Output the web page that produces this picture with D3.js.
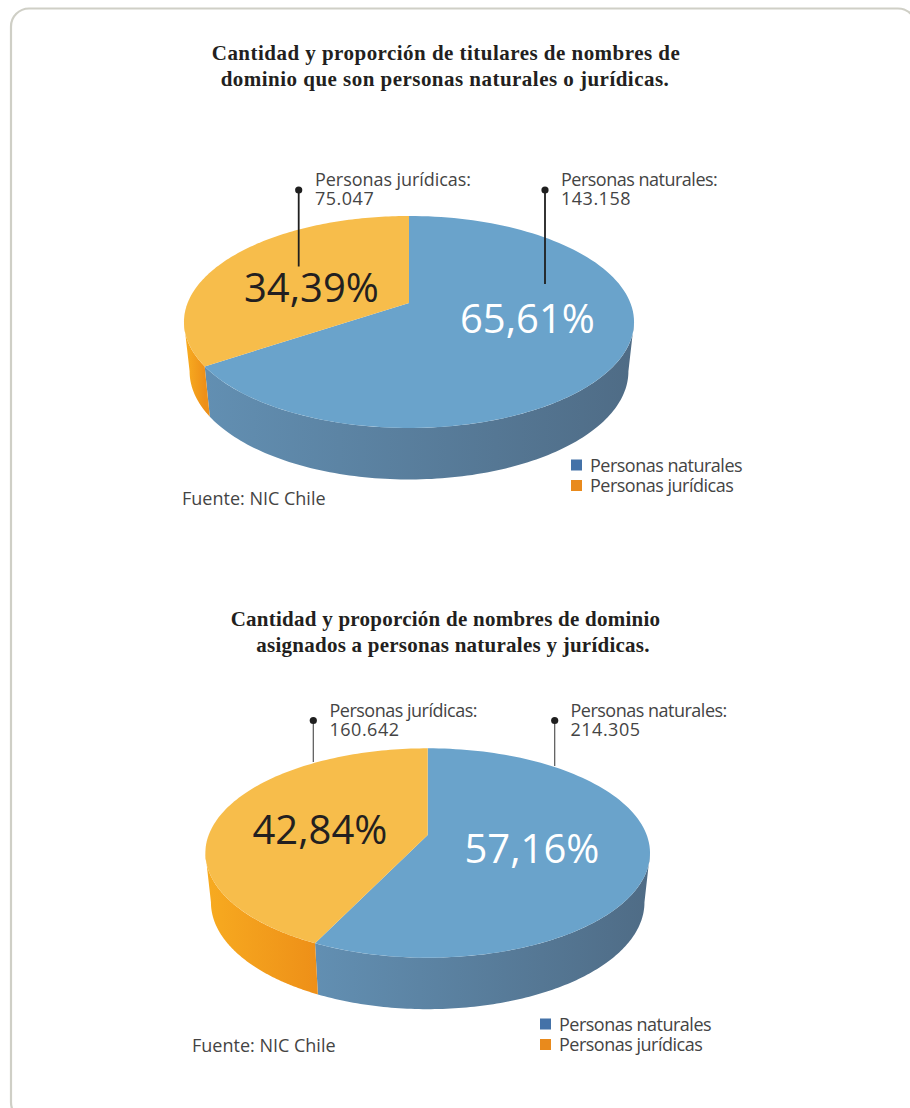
<!DOCTYPE html>
<html lang="es">
<head>
<meta charset="utf-8">
<title>Titulares y nombres de dominio</title>
<script src="https://cdn.jsdelivr.net/npm/d3@7/dist/d3.min.js"></script>
<style>
  html, body { margin: 0; padding: 0; background: #fff; overflow: hidden; }
  svg { display: block; }
  text { font-family: "Open Sans", "Noto Sans", sans-serif; }
  .title { font-family: "Liberation Serif", serif; font-weight: 700; font-size: 21px; fill: #231f20; text-anchor: middle; }
  .label, .legend, .source { font-size: 18px; fill: #444444; }
  .label, .legend { letter-spacing: -0.5px; }
  .label .count { letter-spacing: 0.5px; }
  .pct { font-size: 40px; }
</style>
</head>
<body>
<svg id="chart" width="910" height="1108"></svg>
<script>
// Domain-holder figures published by NIC Chile
const categories = ["Personas naturales", "Personas jurídicas"];
const holders = [143158, 75047];
const domains = [214305, 160642];
const titleHolders = [
  "Cantidad y proporción de titulares de nombres de",
  "dominio que son personas naturales o jurídicas."
];
const titleDomains = [
  "Cantidad y proporción de nombres de dominio",
  "asignados a personas naturales y jurídicas."
];
const sourceText = "Fuente: NIC Chile";

const esCL = d3.formatLocale({ decimal: ",", thousands: ".", grouping: [3], currency: ["$", ""] });
const fmtCount = esCL.format(",d");
const fmtShare = esCL.format(".2%");

const svg = d3.select("#chart");
const defs = svg.append("defs");

// Rounded panel frame; it runs off the right and bottom of the page
svg.append("rect")
  .attr("x", 11).attr("y", 8.5).attr("width", 905).attr("height", 1112).attr("rx", 18)
  .attr("fill", "#fff").attr("stroke", "#cfcfc6").attr("stroke-width", 2.2);

function gradient(id, x1, x2, from, to) {
  const g = defs.append("linearGradient").attr("id", id)
    .attr("gradientUnits", "userSpaceOnUse")
    .attr("x1", x1).attr("x2", x2).attr("y1", 0).attr("y2", 0);
  g.append("stop").attr("offset", 0).attr("stop-color", from);
  g.append("stop").attr("offset", 1).attr("stop-color", to);
  return `url(#${id})`;
}

// Draws one tilted pie: the disc is a projected circle, far edge shrunk by `tilt`
function drawPie(id, values, cfg) {
  const g = svg.append("g");
  const total = d3.sum(values);
  const arcs = d3.pie().sort(null).value(d => d)(values);

  const project = (face, theta) => {
    const w = 1 + cfg.tilt * Math.cos(theta);
    return [face.cx + face.a * Math.sin(theta) / w, face.cy - face.b * Math.cos(theta) / w];
  };
  const top = { cx: cfg.cx, cy: cfg.cy, a: cfg.a, b: cfg.b };
  const base = { cx: cfg.cx, cy: cfg.cy + cfg.drop, a: cfg.a * 0.975, b: cfg.b * 1.02 };
  const rim = (face, t0, t1) => d3.range(0, 121).map(i => project(face, t0 + (t1 - t0) * i / 120));
  const line = d3.line();

  // Side wall between the two silhouette points of the disc
  const wallFrom = Math.acos(-cfg.tilt);
  const wallTo = 2 * Math.PI - wallFrom;
  const wall = (t0, t1) => line(rim(top, t0, t1).concat(rim(base, t0, t1).reverse())) + "Z";

  const split = arcs[0].endAngle;
  const splitX = project(top, split)[0];
  const blueWall = gradient(id + "-blue", splitX, cfg.cx + cfg.a, "#628fb2", "#4f6c86");
  const orangeWall = gradient(id + "-orange", cfg.cx - cfg.a, splitX, "#f7aa20", "#ee9018");

  g.append("path").attr("d", wall(wallFrom, split)).attr("fill", blueWall);
  g.append("path").attr("d", wall(split, wallTo)).attr("fill", orangeWall);

  // Top face, one wedge per category
  const faceColors = ["#6aa3cb", "#f7bd4b"];
  g.selectAll("path.face").data(arcs).join("path")
    .attr("class", "face")
    .attr("fill", (d, i) => faceColors[i])
    .attr("d", d => line([[cfg.cx, cfg.cy]].concat(rim(top, d.startAngle, d.endAngle))) + "Z");

  // Leader lines with dot heads
  cfg.leaders.forEach(l => {
    g.append("line").attr("x1", l.x).attr("x2", l.x).attr("y1", l.y0).attr("y2", l.y1)
      .attr("stroke", cfg.leaderColor).attr("stroke-width", cfg.leaderWidth);
    g.append("circle").attr("cx", l.x).attr("cy", l.y0).attr("r", 3.6).attr("fill", "#1f1f1f");
  });

  // Callouts: category name over its count
  values.forEach((v, i) => {
    const c = cfg.callouts[i];
    const t = g.append("text").attr("class", "label").attr("x", c.x).attr("y", c.y);
    t.append("tspan").style("letter-spacing", c.spacing).text(categories[i] + ":");
    t.append("tspan").attr("class", "count").attr("x", c.x).attr("dy", 19).text(fmtCount(v));
  });

  // Share labels
  values.forEach((v, i) => {
    const p = cfg.shares[i];
    g.append("text").attr("class", "pct").attr("x", p.x).attr("y", p.y)
      .attr("fill", i === 0 ? "#ffffff" : "#231f20")
      .text(fmtShare(v / total));
  });

  // Legend
  const legendColors = ["#4472a8", "#e98a1c"];
  categories.forEach((name, i) => {
    const y = cfg.legend.y + i * 20.5;
    g.append("rect").attr("x", cfg.legend.x).attr("y", y).attr("width", 11).attr("height", 11)
      .attr("fill", legendColors[i]);
    g.append("text").attr("class", "legend").attr("x", cfg.legend.x + 19).attr("y", y + 12).text(name);
  });

  g.append("text").attr("class", "source").attr("x", cfg.source.x).attr("y", cfg.source.y).text(sourceText);
}

function drawTitle(lines, centres, y, spacing) {
  lines.forEach((s, i) => {
    svg.append("text").attr("class", "title").attr("x", centres[i]).attr("y", y + i * 25.5)
      .style("letter-spacing", spacing).text(s);
  });
}

drawTitle(titleHolders, [446, 445], 60, "0.47px");
drawTitle(titleDomains, [445.5, 453], 626, "0.25px");

drawPie("holders", holders, {
  cx: 409, cy: 303, a: 221.4, b: 102.6, tilt: 0.179, drop: 49,
  leaderColor: "#1f1f1f", leaderWidth: 1.8,
  leaders: [{ x: 545, y0: 190, y1: 284 }, { x: 298.7, y0: 190, y1: 266.5 }],
  callouts: [{ x: 561, y: 186, spacing: "-0.5px" }, { x: 315, y: 186, spacing: "-0.05px" }],
  shares: [{ x: 460, y: 333 }, { x: 244, y: 302 }],
  legend: { x: 571, y: 459.5 },
  source: { x: 182, y: 505 }
});

drawPie("domains", domains, {
  cx: 427.7, cy: 835, a: 219, b: 101.6, tilt: 0.172, drop: 49,
  leaderColor: "#555555", leaderWidth: 1.2,
  leaders: [{ x: 554.7, y0: 720.5, y1: 766 }, { x: 313.3, y0: 720.5, y1: 762 }],
  callouts: [{ x: 570.5, y: 717, spacing: "-0.5px" }, { x: 329.5, y: 717, spacing: "-0.5px" }],
  shares: [{ x: 464.5, y: 863 }, { x: 252.5, y: 844 }],
  legend: { x: 540, y: 1018.5 },
  source: { x: 192, y: 1052 }
});
</script>
</body>
</html>
